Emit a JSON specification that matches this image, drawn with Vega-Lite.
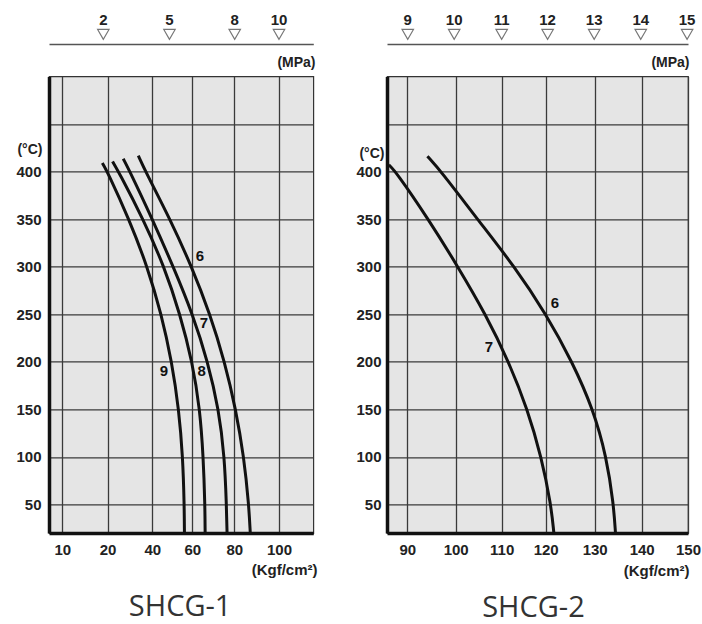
{
  "$schema": "https://vega.github.io/schema/vega-lite/v6.json",
  "padding": {"left": 15, "top": 4, "right": 0, "bottom": 0},
  "background": "white",
  "datasets": {
    "c1": [
      {"curve": "9", "kgf": 17.4, "t": 409}, {"curve": "9", "kgf": 19.9, "t": 400}, {"curve": "9", "kgf": 30, "t": 350}, {"curve": "9", "kgf": 37.9, "t": 300}, {"curve": "9", "kgf": 44.7, "t": 250}, {"curve": "9", "kgf": 50.1, "t": 200}, {"curve": "9", "kgf": 53.5, "t": 150}, {"curve": "9", "kgf": 55.4, "t": 100}, {"curve": "9", "kgf": 56.1, "t": 50}, {"curve": "9", "kgf": 56.2, "t": 20},
      {"curve": "8", "kgf": 22.3, "t": 410.6}, {"curve": "8", "kgf": 25.1, "t": 400}, {"curve": "8", "kgf": 36.1, "t": 350}, {"curve": "8", "kgf": 46.2, "t": 300}, {"curve": "8", "kgf": 54.1, "t": 250}, {"curve": "8", "kgf": 60, "t": 200}, {"curve": "8", "kgf": 63.7, "t": 150}, {"curve": "8", "kgf": 65.3, "t": 100}, {"curve": "8", "kgf": 66.1, "t": 50}, {"curve": "8", "kgf": 66.2, "t": 20},
      {"curve": "7", "kgf": 27.3, "t": 413.5}, {"curve": "7", "kgf": 30.4, "t": 400}, {"curve": "7", "kgf": 40, "t": 350}, {"curve": "7", "kgf": 50.8, "t": 300}, {"curve": "7", "kgf": 60.2, "t": 250}, {"curve": "7", "kgf": 67.5, "t": 200}, {"curve": "7", "kgf": 72.7, "t": 150}, {"curve": "7", "kgf": 75.4, "t": 100}, {"curve": "7", "kgf": 76.3, "t": 50}, {"curve": "7", "kgf": 76.6, "t": 20},
      {"curve": "6", "kgf": 34, "t": 416.6}, {"curve": "6", "kgf": 37.1, "t": 400}, {"curve": "6", "kgf": 49.2, "t": 350}, {"curve": "6", "kgf": 59.7, "t": 300}, {"curve": "6", "kgf": 68.6, "t": 250}, {"curve": "6", "kgf": 75.5, "t": 200}, {"curve": "6", "kgf": 80.7, "t": 150}, {"curve": "6", "kgf": 84.5, "t": 100}, {"curve": "6", "kgf": 86.8, "t": 50}, {"curve": "6", "kgf": 87.5, "t": 20}
    ],
    "c2": [
      {"curve": "7", "kgf": 86, "t": 407}, {"curve": "7", "kgf": 87.5, "t": 400}, {"curve": "7", "kgf": 94.5, "t": 350}, {"curve": "7", "kgf": 100.5, "t": 300}, {"curve": "7", "kgf": 106.7, "t": 250}, {"curve": "7", "kgf": 111.6, "t": 200}, {"curve": "7", "kgf": 115.8, "t": 150}, {"curve": "7", "kgf": 119, "t": 100}, {"curve": "7", "kgf": 121.1, "t": 50}, {"curve": "7", "kgf": 121.7, "t": 20},
      {"curve": "6", "kgf": 94.3, "t": 416}, {"curve": "6", "kgf": 97.1, "t": 400}, {"curve": "6", "kgf": 105, "t": 350}, {"curve": "6", "kgf": 112.9, "t": 300}, {"curve": "6", "kgf": 120.1, "t": 250}, {"curve": "6", "kgf": 125.5, "t": 200}, {"curve": "6", "kgf": 129.7, "t": 150}, {"curve": "6", "kgf": 132.5, "t": 100}, {"curve": "6", "kgf": 134, "t": 50}, {"curve": "6", "kgf": 134.4, "t": 20}
    ],
    "l1": [
      {"label": "6", "kgf": 63.7, "t": 310.8}, {"label": "7", "kgf": 65.6, "t": 241.1}, {"label": "9", "kgf": 46, "t": 190.5}, {"label": "8", "kgf": 64.5, "t": 190.5}
    ],
    "l2": [
      {"label": "6", "kgf": 121.9, "t": 262.1}, {"label": "7", "kgf": 107.4, "t": 215.1}
    ],
    "mpa1": [
      {"mpa": "2", "kgf": 17.9}, {"mpa": "5", "kgf": 48.9}, {"mpa": "8", "kgf": 80.2}, {"mpa": "10", "kgf": 100}
    ],
    "mpa2": [
      {"mpa": "9", "kgf": 90.1}, {"mpa": "10", "kgf": 99.7}, {"mpa": "11", "kgf": 110}, {"mpa": "12", "kgf": 120.4}, {"mpa": "13", "kgf": 129.9}, {"mpa": "14", "kgf": 139.8}, {"mpa": "15", "kgf": 149.8}
    ]
  },
  "columns": 2,
  "spacing": {"row": 32.4, "column": 73},
  "bounds": "flush",
  "concat": [
    {
      "width": 264.3, "height": 40,
      "view": {"stroke": null, "fill": null},
      "data": {"name": "mpa1"},
      "layer": [
        {
          "mark": {"type": "point", "shape": "triangle-down", "size": 130, "filled": false, "fill": "white", "stroke": "#777", "strokeWidth": 1.2, "opacity": 1},
          "encoding": {
            "x": {"field": "kgf", "type": "quantitative",
              "scale": {"type": "linear", "domain": [-5.8, 0, 10, 20, 30, 40, 50, 60, 70, 80, 90, 100, 110, 116.4], "range": [0, 13.3, 38.3, 58.6, 80, 103.3, 122.6, 143.3, 164, 185.3, 206.6, 230, 251, 264.3], "nice": false, "zero": false},
              "axis": {"orient": "bottom", "grid": false, "labels": false, "ticks": false, "domain": true, "domainColor": "#555", "domainWidth": 1.5, "title": "(MPa)", "titleAnchor": "end", "titleAlign": "right", "titleBaseline": "middle", "titleX": 266, "titleY": 18, "titleFontSize": 14, "titleFontWeight": "bold", "titleColor": "#222"}},
            "y": {"datum": 9.6, "type": "quantitative", "scale": {"domain": [0, 40], "nice": false, "zero": false}, "axis": null}
          }
        },
        {
          "mark": {"type": "text", "font": "Liberation Sans", "fontSize": 15, "fontWeight": "bold", "color": "#222", "baseline": "middle", "align": "center"},
          "encoding": {
            "x": {"field": "kgf", "type": "quantitative"},
            "y": {"datum": 24, "type": "quantitative"},
            "text": {"field": "mpa"}
          }
        }
      ]
    },
    {
      "width": 301, "height": 40,
      "view": {"stroke": null, "fill": null},
      "data": {"name": "mpa2"},
      "layer": [
        {
          "mark": {"type": "point", "shape": "triangle-down", "size": 130, "filled": false, "fill": "white", "stroke": "#777", "strokeWidth": 1.2, "opacity": 1},
          "encoding": {
            "x": {"field": "kgf", "type": "quantitative",
              "scale": {"type": "linear", "domain": [85.6, 90, 95, 100, 105, 110, 115, 120, 125, 130, 135, 140, 145, 150], "range": [0, 20.3, 43.7, 68.7, 90.3, 114.7, 137, 158.7, 182.7, 207.7, 231.3, 254.7, 278.7, 301], "nice": false, "zero": false},
              "axis": {"orient": "bottom", "grid": false, "labels": false, "ticks": false, "domain": true, "domainColor": "#555", "domainWidth": 1.5, "title": "(MPa)", "titleAnchor": "end", "titleAlign": "right", "titleBaseline": "middle", "titleX": 302, "titleY": 18, "titleFontSize": 14, "titleFontWeight": "bold", "titleColor": "#222"}},
            "y": {"datum": 9.6, "type": "quantitative", "scale": {"domain": [0, 40], "nice": false, "zero": false}, "axis": null}
          }
        },
        {
          "mark": {"type": "text", "font": "Liberation Sans", "fontSize": 15, "fontWeight": "bold", "color": "#222", "baseline": "middle", "align": "center"},
          "encoding": {
            "x": {"field": "kgf", "type": "quantitative"},
            "y": {"datum": 24, "type": "quantitative"},
            "text": {"field": "mpa"}
          }
        }
      ]
    },
    {
      "width": 264.3, "height": 456.6,
      "title": {"text": "SHCG-1", "orient": "bottom", "anchor": "middle", "frame": "group", "font": "Open Sans", "fontSize": 29, "fontWeight": "normal", "color": "#333", "offset": 16, "dx": -1},
      "layer": [
        {
          "data": {"name": "c1"},
          "mark": {"type": "line", "color": "#111", "strokeWidth": 3, "interpolate": "basis"},
          "encoding": {
            "x": {"field": "kgf", "type": "quantitative",
              "scale": {"type": "linear", "domain": [-5.8, 0, 10, 20, 30, 40, 50, 60, 70, 80, 90, 100, 110, 116.4], "range": [0, 13.3, 38.3, 58.6, 80, 103.3, 122.6, 143.3, 164, 185.3, 206.6, 230, 251, 264.3], "nice": false, "zero": false},
              "axis": {"values": [0, 10, 20, 30, 40, 50, 60, 70, 80, 90, 100, 110], "grid": true, "labelExpr": "datum.value == 0 ? '10' : ((datum.value % 20 == 0 && datum.value <= 100) ? datum.label : '')", "title": "(Kgf/cm²)", "titleAnchor": "end", "titleAlign": "right", "titleBaseline": "middle", "titleX": 268, "titleY": 36, "titleFontSize": 15, "labelPadding": 9}},
            "y": {"field": "t", "type": "quantitative",
              "scale": {"domain": [20, 500], "nice": false, "zero": false},
              "axis": {"values": [50, 100, 150, 200, 250, 300, 350, 400, 450], "grid": true, "labelExpr": "datum.value <= 400 ? datum.label : ''", "title": "(°C)", "titleAngle": 0, "titleAlign": "right", "titleBaseline": "middle", "titleX": -7, "titleY": 73.3, "labelPadding": 8}},
            "detail": {"field": "curve"},
            "order": {"field": "t", "sort": "descending"}
          }
        },
        {
          "data": {"name": "l1"},
          "mark": {"type": "text", "font": "Liberation Sans", "fontSize": 15, "fontWeight": "bold", "color": "#111", "align": "center", "baseline": "middle"},
          "encoding": {
            "x": {"field": "kgf", "type": "quantitative"},
            "y": {"field": "t", "type": "quantitative"},
            "text": {"field": "label"}
          }
        }
      ]
    },
    {
      "width": 301, "height": 456.6,
      "title": {"text": "SHCG-2", "orient": "bottom", "anchor": "middle", "frame": "group", "font": "Open Sans", "fontSize": 29, "fontWeight": "normal", "color": "#333", "offset": 16, "dx": -4},
      "layer": [
        {
          "data": {"name": "c2"},
          "mark": {"type": "line", "color": "#111", "strokeWidth": 3, "interpolate": "basis"},
          "encoding": {
            "x": {"field": "kgf", "type": "quantitative",
              "scale": {"type": "linear", "domain": [85.6, 90, 95, 100, 105, 110, 115, 120, 125, 130, 135, 140, 145, 150], "range": [0, 20.3, 43.7, 68.7, 90.3, 114.7, 137, 158.7, 182.7, 207.7, 231.3, 254.7, 278.7, 301], "nice": false, "zero": false},
              "axis": {"values": [90, 95, 100, 105, 110, 115, 120, 125, 130, 135, 140, 145, 150], "grid": true, "labelExpr": "datum.value % 10 == 0 ? datum.label : ''", "title": "(Kgf/cm²)", "titleAnchor": "end", "titleAlign": "right", "titleBaseline": "middle", "titleX": 302, "titleY": 37, "titleFontSize": 15, "labelPadding": 9}},
            "y": {"field": "t", "type": "quantitative",
              "scale": {"domain": [20, 500], "nice": false, "zero": false},
              "axis": {"values": [50, 100, 150, 200, 250, 300, 350, 400, 450], "grid": true, "labelExpr": "datum.value <= 400 ? datum.label : ''", "title": "(°C)", "titleAngle": 0, "titleAlign": "right", "titleBaseline": "middle", "titleX": -3, "titleY": 77.3, "labelPadding": 6}},
            "detail": {"field": "curve"},
            "order": {"field": "t", "sort": "descending"}
          }
        },
        {
          "data": {"name": "l2"},
          "mark": {"type": "text", "font": "Liberation Sans", "fontSize": 15, "fontWeight": "bold", "color": "#111", "align": "center", "baseline": "middle"},
          "encoding": {
            "x": {"field": "kgf", "type": "quantitative"},
            "y": {"field": "t", "type": "quantitative"},
            "text": {"field": "label"}
          }
        }
      ]
    }
  ],
  "config": {
    "font": "Liberation Sans",
    "view": {"stroke": "#333", "strokeWidth": 1.2, "fill": "#e5e5e5"},
    "axis": {
      "labelFont": "Liberation Sans", "labelFontSize": 15, "labelFontWeight": "bold", "labelColor": "#222",
      "labelFlush": false, "labelOverlap": false,
      "titleFont": "Liberation Sans", "titleFontSize": 14, "titleFontWeight": "bold", "titleColor": "#222",
      "gridColor": "#3a3a3a", "gridWidth": 1.3, "gridOpacity": 1,
      "domainColor": "#111", "domainWidth": 3.5,
      "ticks": false, "tickSize": 0
    }
  }
}
